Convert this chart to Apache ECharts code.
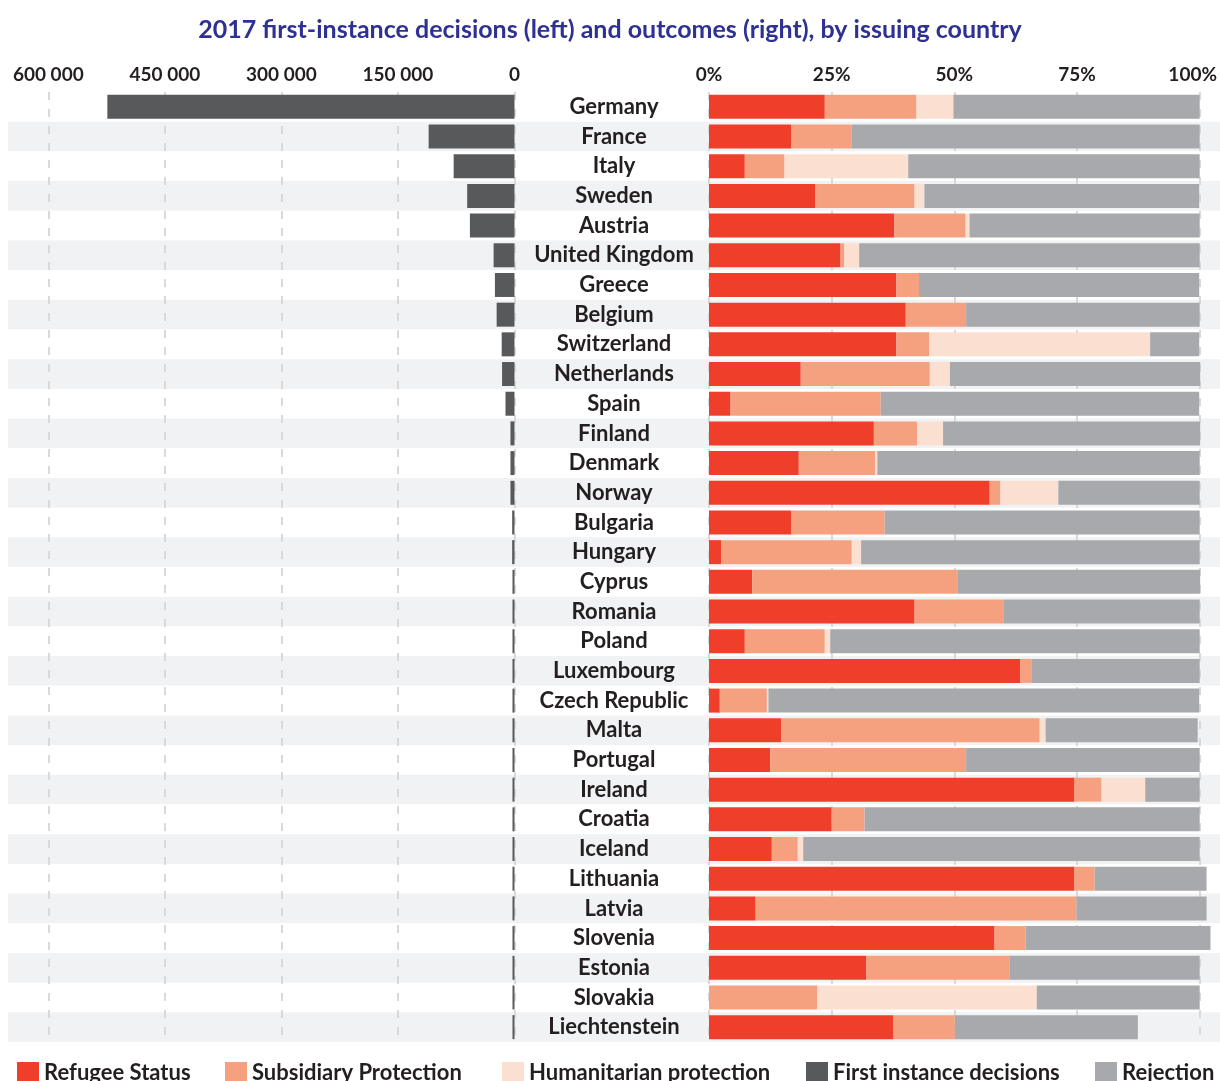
<!DOCTYPE html>
<html>
<head>
<meta charset="utf-8">
<title>2017 first-instance decisions and outcomes</title>
<script src="https://cdn.jsdelivr.net/npm/echarts@6/dist/echarts.min.js"></script>
<style>
  html, body { margin: 0; padding: 0; background: #fff; }
  #chart { width: 1220px; height: 1081px; }
</style>
</head>
<body>
<div id="chart"></div>
<script>
const countries = ['Germany', 'France', 'Italy', 'Sweden', 'Austria', 'United Kingdom', 'Greece', 'Belgium',
  'Switzerland', 'Netherlands', 'Spain', 'Finland', 'Denmark', 'Norway', 'Bulgaria', 'Hungary', 'Cyprus',
  'Romania', 'Poland', 'Luxembourg', 'Czech Republic', 'Malta', 'Portugal', 'Ireland', 'Croatia', 'Iceland',
  'Lithuania', 'Latvia', 'Slovenia', 'Estonia', 'Slovakia', 'Liechtenstein']

// number of first instance decisions (left)
const firstInstance = [524000, 110500, 78300, 60900, 57400, 26900, 25200, 23000, 16500, 16000, 11600, 5200,
  5200, 5200, 3000, 3000, 2000, 1800, 2100, 1800, 1500, 1600, 1000, 1300, 700, 1000, 500, 400, 300, 200, 150, 100]

// outcome shares in % (right)
const refugee = [23.6, 16.8, 7.3, 21.7, 37.8, 26.8, 38.2, 40.1, 38.2, 18.7, 4.4, 33.6, 18.3, 57.2, 16.8, 2.5,
  8.8, 41.9, 7.3, 63.4, 2.2, 14.7, 12.5, 74.5, 25.0, 12.8, 74.5, 9.5, 58.2, 32.0, 0, 37.6]
const subsidiary = [18.7, 12.3, 8.1, 20.2, 14.5, 0.8, 4.6, 12.3, 6.7, 26.3, 30.6, 8.8, 15.6, 2.2, 19.0, 26.6,
  41.8, 18.2, 16.3, 2.3, 9.6, 52.7, 39.9, 5.5, 6.7, 5.3, 4.1, 65.4, 6.3, 29.2, 22.1, 12.5]
const humanitarian = [7.5, 0, 25.2, 2.0, 0.8, 3.0, 0, 0, 45.0, 4.1, 0, 5.3, 0.4, 11.8, 0, 1.9,
  0, 0, 1.1, 0, 0.3, 1.2, 0, 8.9, 0, 1.1, 0, 0, 0, 0, 44.7, 0]
const rejection = [50.2, 70.9, 59.4, 56.0, 46.9, 69.4, 57.1, 47.6, 10.0, 51.0, 64.9, 52.4, 65.7, 28.8, 64.2, 69.0,
  49.5, 39.9, 75.3, 34.3, 87.8, 31.0, 47.6, 11.1, 68.3, 80.8, 22.8, 26.5, 37.7, 38.8, 33.2, 37.3]

const leftTicks = [0, 150000, 300000, 450000, 600000]
const rightTicks = [0, 25, 50, 75, 100]

const FONT = 'Lato'
const TEXT = '#231f20'
const colors = {
  refugee: '#ef3e29',
  subsidiary: '#f5a07f',
  humanitarian: '#fbdfd0',
  first: '#58595b',
  rejection: '#a8a9ad'
}

const gridTop = 92
const gridHeight = 950

const dashed = { show: true, lineStyle: { color: '#d9d9d9', width: 2, type: [8, 9] } }

const initChart = () => {
  const myChart = echarts.init(document.getElementById('chart'), null, { renderer: 'canvas' })

  const legendItem = (name, left) => ({
    left: left,
    top: 1057,
    orient: 'horizontal',
    selectedMode: false,
    icon: 'rect',
    itemWidth: 22,
    itemHeight: 22,
    data: [name],
    textStyle: { fontFamily: FONT, fontWeight: 'bold', fontSize: 22, color: TEXT }
  })

  const stackBar = (name, data, color) => ({
    name: name,
    type: 'bar',
    xAxisIndex: 2,
    yAxisIndex: 2,
    stack: 'outcome',
    barWidth: 24,
    clip: false,
    itemStyle: { color: color },
    data: data
  })

  const options = {
    animation: false,
    backgroundColor: '#fff',
    textStyle: { fontFamily: FONT },
    title: {
      text: '2017 first-instance decisions (left) and outcomes (right), by issuing country',
      left: 'center',
      top: 12,
      textStyle: { fontFamily: FONT, fontWeight: 'bold', fontSize: 25, color: '#2e3192' }
    },
    legend: [
      legendItem('Refugee Status', 12),
      legendItem('Subsidiary Protection', 220),
      legendItem('Humanitarian protection', 497),
      legendItem('First instance decisions', 801),
      legendItem('Rejection', 1090)
    ],
    grid: [
      // row bands
      { left: 8, right: 0, top: gridTop, height: gridHeight },
      // first instance decisions
      { left: 48.3, right: 705.5, top: gridTop, height: gridHeight },
      // outcomes
      { left: 709, right: 19.5, top: gridTop, height: gridHeight }
    ],
    xAxis: [
      { gridIndex: 0, type: 'value', show: false },
      {
        gridIndex: 1,
        type: 'value',
        position: 'top',
        inverse: true,
        min: leftTicks[0],
        max: leftTicks[leftTicks.length - 1],
        interval: 150000,
        axisLine: { show: false },
        axisTick: { show: false },
        splitLine: dashed,
        axisLabel: {
          margin: 8,
          fontFamily: FONT,
          fontWeight: 'bold',
          fontSize: 19,
          color: TEXT,
          formatter: v => String(v).replace(/\B(?=(\d{3})+(?!\d))/g, ' ')
        }
      },
      {
        gridIndex: 2,
        type: 'value',
        position: 'top',
        min: rightTicks[0],
        max: rightTicks[rightTicks.length - 1],
        interval: 25,
        axisLine: { show: false },
        axisTick: { show: false },
        splitLine: dashed,
        axisLabel: {
          margin: 8,
          fontFamily: FONT,
          fontWeight: 'bold',
          fontSize: 19,
          color: TEXT,
          formatter: v => v === 100 ? '{r|100%}' : v + '%',
          rich: { r: { fontFamily: FONT, fontWeight: 'bold', fontSize: 19, color: TEXT, padding: [0, 14, 0, 0] } }
        }
      }
    ],
    yAxis: [
      {
        gridIndex: 0,
        type: 'category',
        inverse: true,
        data: countries,
        axisLine: { show: false },
        axisTick: { show: false },
        axisLabel: { show: false },
        splitArea: { show: true, areaStyle: { color: ['#ffffff', '#f1f2f4'] } }
      },
      {
        gridIndex: 1,
        type: 'category',
        inverse: true,
        position: 'right',
        data: countries,
        axisLine: { show: false },
        axisTick: { show: false },
        axisLabel: {
          align: 'center',
          verticalAlign: 'middle',
          lineHeight: 22,
          padding: [6, 0, 0, 0],
          margin: 99.5,
          fontFamily: FONT,
          fontWeight: 'bold',
          fontSize: 22,
          color: TEXT
        }
      },
      {
        gridIndex: 2,
        type: 'category',
        inverse: true,
        data: countries,
        show: false
      }
    ],
    series: [
      {
        name: 'First instance decisions',
        type: 'bar',
        xAxisIndex: 1,
        yAxisIndex: 1,
        barWidth: 24,
        barMinHeight: 2,
        itemStyle: { color: colors.first },
        data: firstInstance
      },
      stackBar('Refugee Status', refugee, colors.refugee),
      stackBar('Subsidiary Protection', subsidiary, colors.subsidiary),
      stackBar('Humanitarian protection', humanitarian, colors.humanitarian),
      stackBar('Rejection', rejection, colors.rejection)
    ]
  }
  myChart.setOption(options)
}

initChart()
</script>
</body>
</html>
